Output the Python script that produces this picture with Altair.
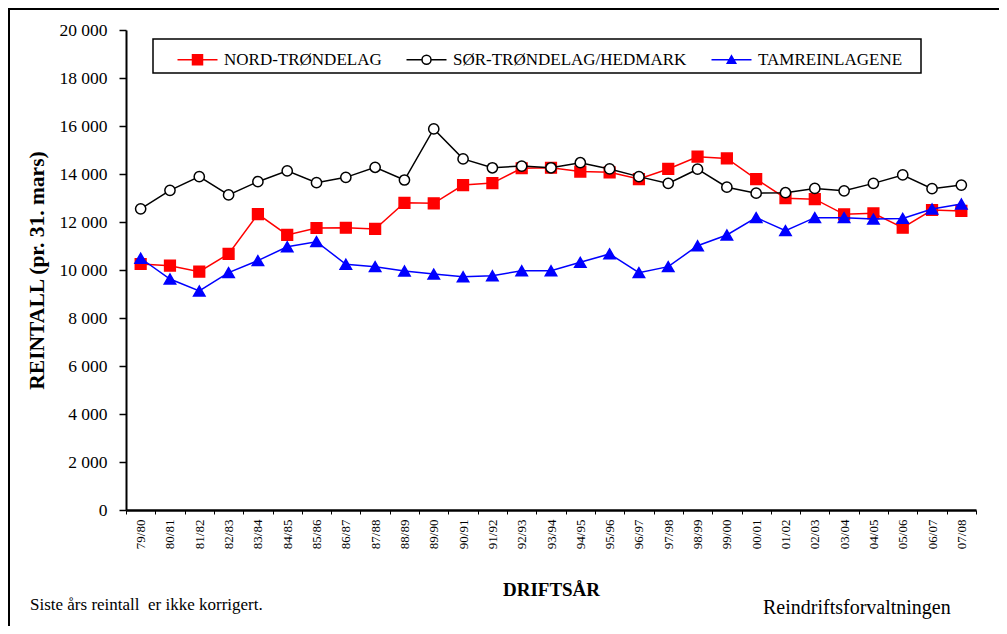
import altair as alt
import pandas as pd

FONT = "Liberation Serif"

cats = ["79/80", "80/81", "81/82", "82/83", "83/84", "84/85", "85/86", "86/87",
        "87/88", "88/89", "89/90", "90/91", "91/92", "92/93", "93/94", "94/95",
        "95/96", "96/97", "97/98", "98/99", "99/00", "00/01", "01/02", "02/03",
        "03/04", "04/05", "05/06", "06/07", "07/08"]

series_names = ["NORD-TRØNDELAG", "SØR-TRØNDELAG/HEDMARK", "TAMREINLAGENE"]

nord = [10250, 10180, 9930, 10670, 12330, 11460, 11750, 11760, 11710, 12800,
        12780, 13540, 13620, 14240, 14260, 14100, 14070, 13790, 14210, 14720,
        14650, 13790, 12990, 12950, 12320, 12360, 11760, 12500, 12460]
sor = [12550, 13320, 13890, 13130, 13680, 14130, 13640, 13860, 14280, 13750,
       15880, 14630, 14260, 14330, 14260, 14470, 14210, 13890, 13610, 14200,
       13450, 13200, 13220, 13400, 13300, 13610, 13960, 13390, 13540]
tam = [10490, 9625, 9125, 9890, 10390, 10970, 11180, 10240, 10140, 9960,
       9830, 9720, 9760, 9970, 9970, 10320, 10670, 9890, 10140, 11010,
       11460, 12180, 11640, 12180, 12180, 12120, 12150, 12540, 12750]

y_ticks = [0, 2000, 4000, 6000, 8000, 10000, 12000, 14000, 16000, 18000, 20000]

stroke_colors = ["#FF0000", "#000000", "#0000FF"]
fill_colors = ["#FF0000", "#FFFFFF", "#0000FF"]
shapes = ["square", "circle", "triangle-up"]
sizes = [115, 105, 130]

note_left = "Siste års reintall \u00a0er ikke korrigert."
note_right = "Reindriftsforvaltningen"

rows = []
for name, vals in zip(series_names, [nord, sor, tam]):
    for c, v in zip(cats, vals):
        rows.append({"drift": c, "serie": name, "reintall": v})
df = pd.DataFrame(rows)

# legend symbols: a short line with the marker on it
legend_paths = [
    "M-4,0H4M-1,-1H1V1H-1Z",
    "M-4,0H-0.9M0.9,0H4M-0.9,0A0.9,0.9 0 1,0 0.9,0A0.9,0.9 0 1,0 -0.9,0Z",
    "M-4,0H4M0,-0.8L0.85,0.7L-0.85,0.7Z",
]

legend_def = alt.Legend(
    title=None, orient="none", legendX=48, legendY=21, direction="horizontal",
    columns=3, padding=0,
    symbolSize=100, symbolStrokeWidth=1.5, symbolOffset=15, symbolOpacity=1,
    labelFont=FONT, labelFontSize=17, labelColor="black", labelOffset=18,
    labelLimit=500, columnPadding=21,
)

x_enc = alt.X(
    "drift:N", sort=cats,
    scale=alt.Scale(type="band", domain=cats, paddingInner=0, paddingOuter=0),
    axis=alt.Axis(
        title="DRIFTSÅR", labelAngle=270, tickBand="extent", labelFont=FONT,
        labelFontSize=13, labelColor="black", labelPadding=5, tickSize=4,
        tickColor="black", domainColor="black", domainWidth=2.5,
        titleFont=FONT, titleFontSize=19, titleFontWeight="bold",
        titleColor="black", titlePadding=32, grid=False,
    ),
)
y_enc = alt.Y(
    "reintall:Q",
    scale=alt.Scale(domain=[0, 20000], nice=False),
    axis=alt.Axis(
        title="REINTALL (pr. 31. mars)", values=y_ticks,
        labelExpr="replace(format(datum.value, ','), ',', ' ')",
        labelFont=FONT, labelFontSize=17.5, labelColor="black", labelPadding=12,
        tickSize=7, tickColor="black", tickWidth=1.5, domainColor="black",
        domainWidth=2, titleFont=FONT, titleFontSize=21.5, titleFontWeight="bold",
        titleColor="black", titlePadding=10, grid=False,
    ),
)

base = alt.Chart(df).encode(x=x_enc, y=y_enc)

one = alt.Data(values=[{}])
legend_box = alt.Chart(one).mark_rect(fill="white", stroke="black", strokeWidth=1.5).encode(
    x=alt.value(27), x2=alt.value(795), y=alt.value(9), y2=alt.value(43))

layers = [legend_box]
for name, sc, fc, shp, sz in zip(series_names, stroke_colors, fill_colors, shapes, sizes):
    sub = base.transform_filter(alt.datum.serie == name)
    layers.append(sub.mark_line(strokeWidth=1.5, color=sc))
    layers.append(sub.mark_point(shape=shp, size=sz, fill=fc, stroke=sc,
                                 strokeWidth=1.5, opacity=1, filled=True))

legend_layer = base.mark_point(opacity=0).encode(
    stroke=alt.Stroke("serie:N", scale=alt.Scale(domain=series_names, range=stroke_colors),
                      legend=legend_def),
    fill=alt.Fill("serie:N", scale=alt.Scale(domain=series_names, range=fill_colors),
                  legend=legend_def),
    shape=alt.Shape("serie:N", scale=alt.Scale(domain=series_names, range=legend_paths),
                    legend=legend_def),
)

top_rule = alt.Chart(one).mark_rule(color="black", strokeWidth=2).encode(
    x=alt.value(-118), x2=alt.value(880), y=alt.value(-21))
left_rule = alt.Chart(one).mark_rule(color="black", strokeWidth=2).encode(
    x=alt.value(-117), y=alt.value(-22), y2=alt.value(600))
txt_left = alt.Chart(one).mark_text(align="left", baseline="alphabetic", font=FONT,
                                    fontSize=17, color="black").encode(
    x=alt.value(-96), y=alt.value(580), text=alt.value(note_left))
txt_right = alt.Chart(one).mark_text(align="left", baseline="alphabetic", font=FONT,
                                     fontSize=20, color="black").encode(
    x=alt.value(637), y=alt.value(584), text=alt.value(note_right))

chart = alt.layer(*layers, legend_layer, top_rule, left_rule, txt_left, txt_right).properties(
    width=850, height=480,
    autosize=alt.AutoSizeParams(type="none"),
    padding={"left": 118, "top": 22, "right": 23, "bottom": 116},
).configure_view(stroke=None)

chart.save("out.html", embed_options={"renderer": "svg", "actions": False})
